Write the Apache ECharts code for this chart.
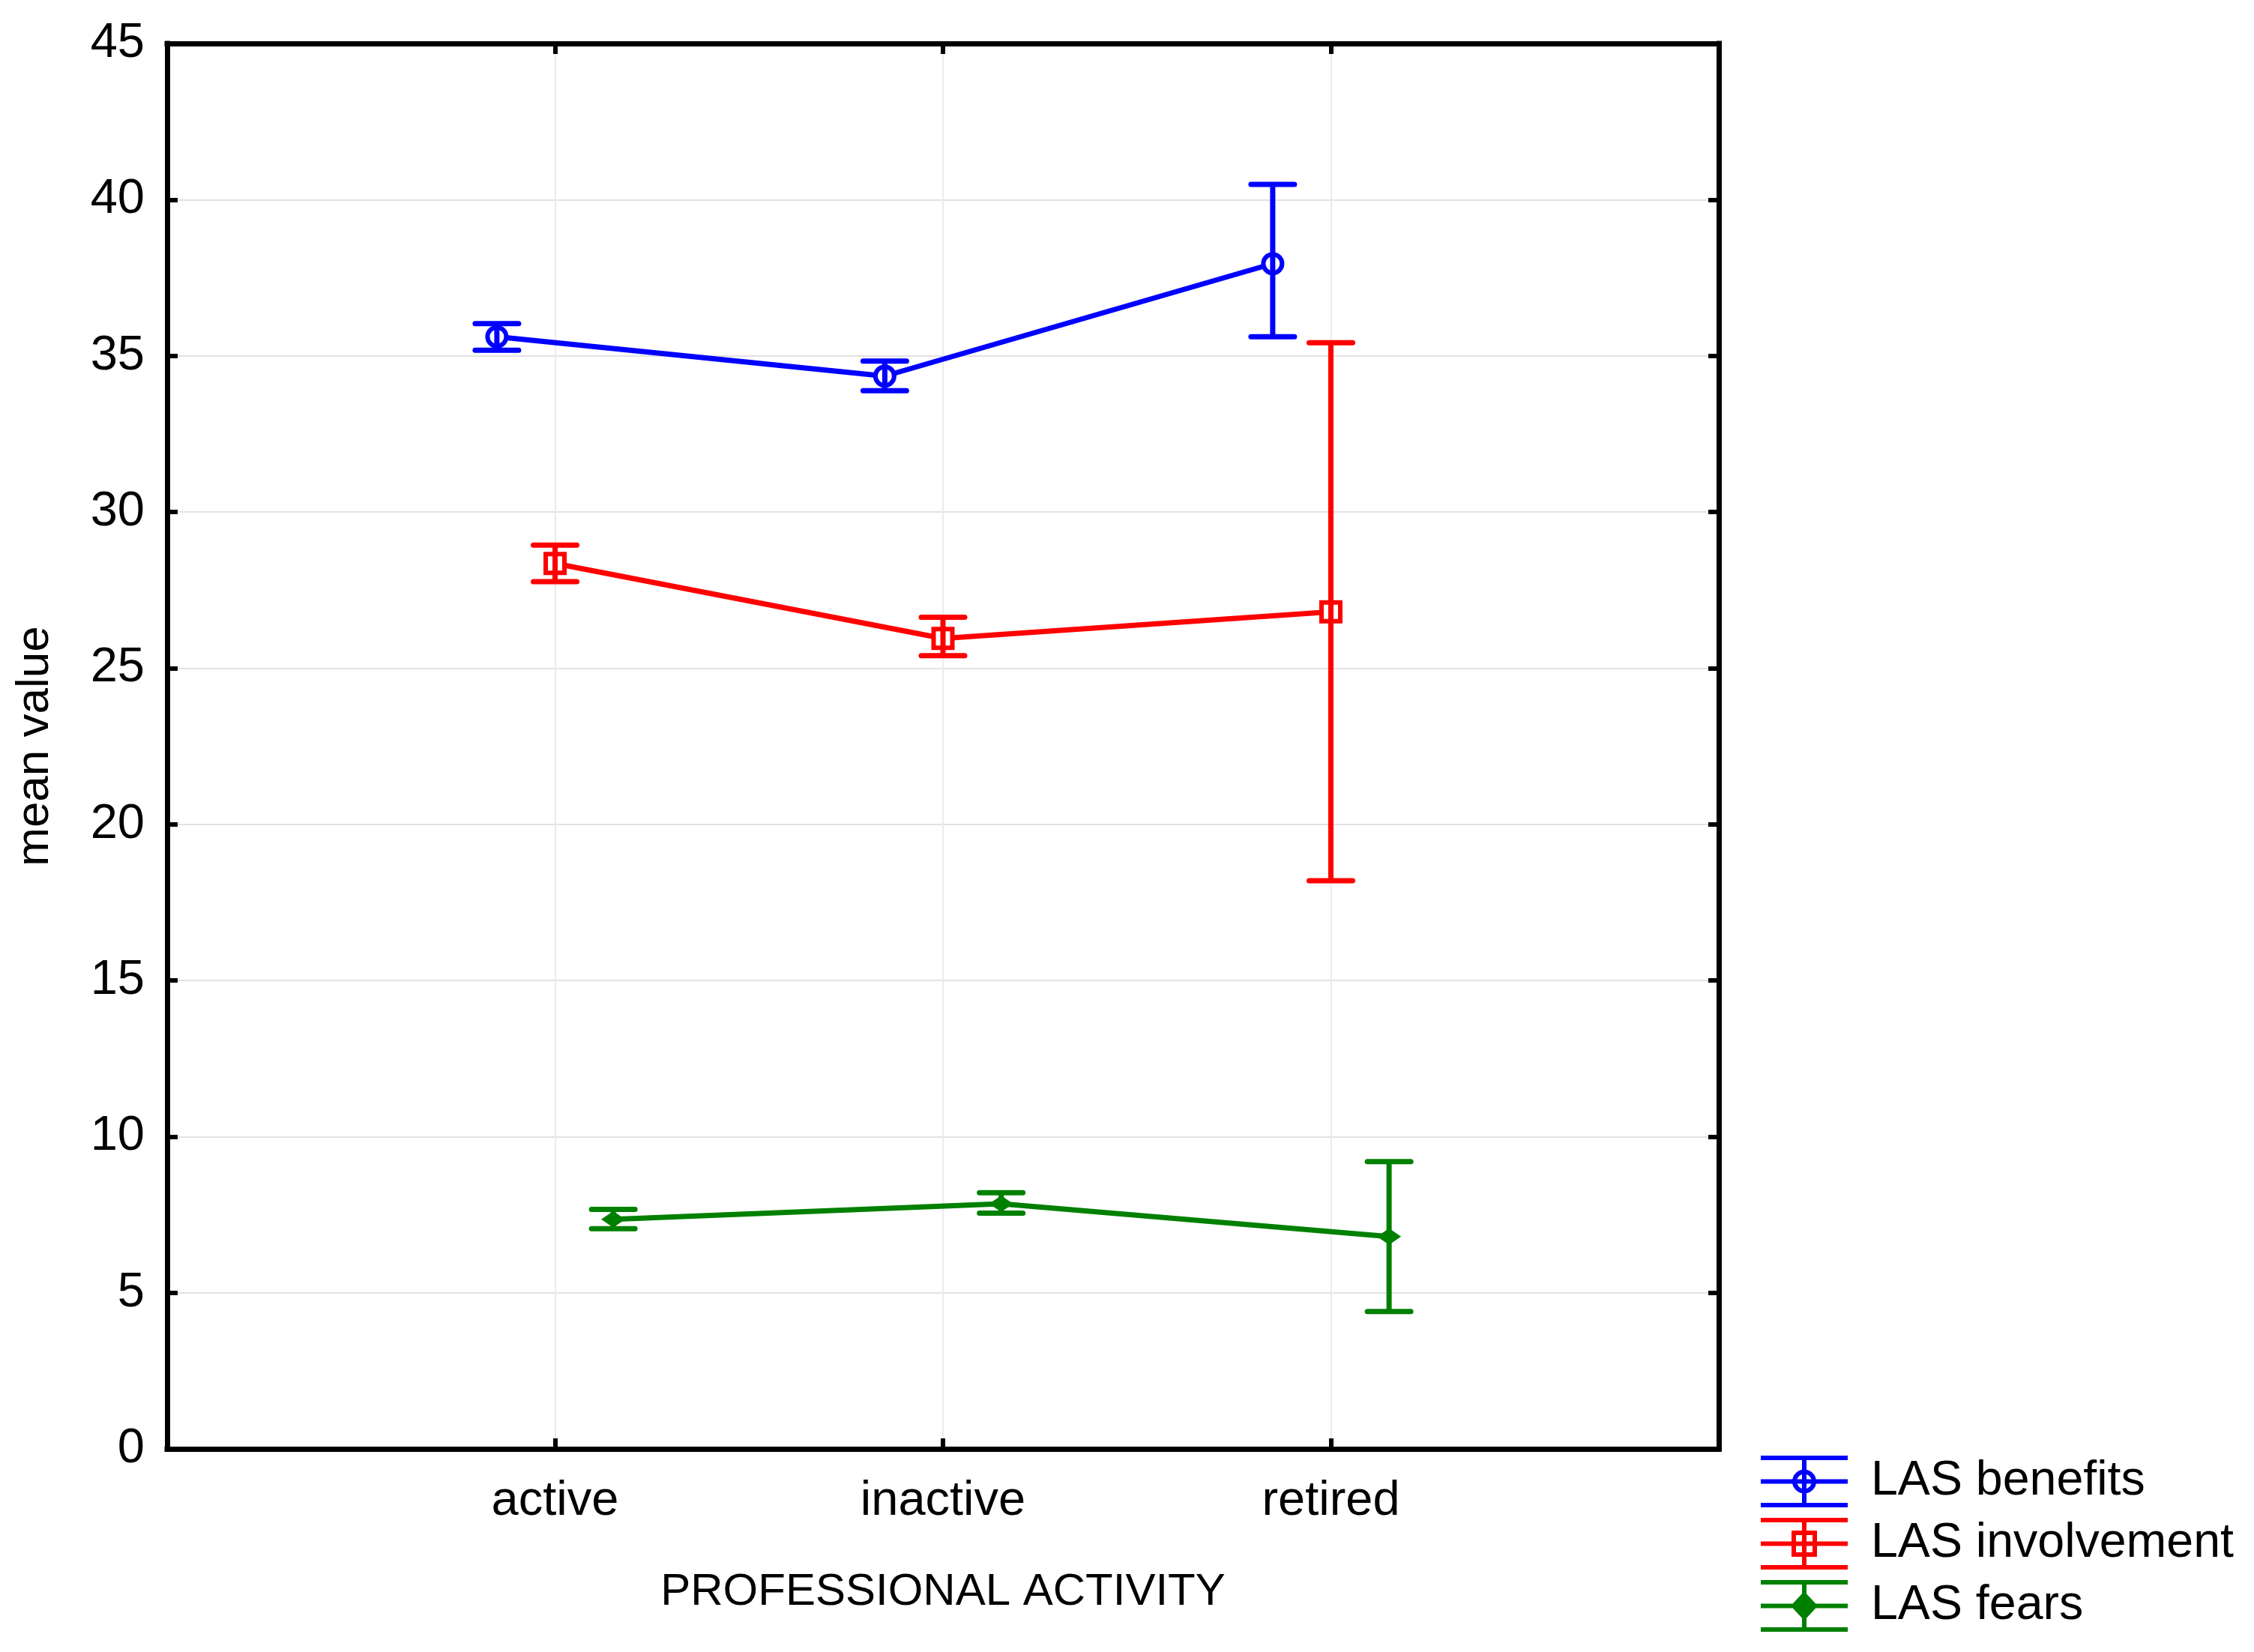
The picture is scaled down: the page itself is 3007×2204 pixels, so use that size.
<!DOCTYPE html>
<html><head><meta charset="utf-8">
<script src="https://cdn.jsdelivr.net/npm/echarts@6/dist/echarts.min.js"></script>
<style>html,body{margin:0;padding:0;background:#fff}#c{width:3007px;height:2204px}</style>
</head><body><div id="c"></div>
<script>
// ---- data ----
const categories = ['active', 'inactive', 'retired'];
const seriesNames = ['LAS benefits', 'LAS involvement', 'LAS fears'];
const benefitsMean = [35.61, 34.35, 37.95];
const benefitsLow  = [35.18, 33.88, 35.61];
const benefitsHigh = [36.03, 34.83, 40.49];
const involvementMean = [28.35, 25.95, 26.80];
const involvementLow  = [27.77, 25.40, 18.19];
const involvementHigh = [28.94, 26.63, 35.42];
const fearsMean = [7.35, 7.85, 6.80];
const fearsLow  = [7.05, 7.55, 4.40];
const fearsHigh = [7.67, 8.20, 9.20];

// ---- styling / layout ----
const FONT = 'Liberation Sans, Arial, sans-serif';
const colors = ['#0000ff', '#ff0000', '#008000'];
const dodge = [-0.15, 0, 0.15];
const LW = 7;
const groups = [
  {mean: benefitsMean, low: benefitsLow, high: benefitsHigh, symbol: 'circle', size: 25, fill: '#fff', border: 6},
  {mean: involvementMean, low: involvementLow, high: involvementHigh, symbol: 'rect', size: 25, fill: '#fff', border: 6},
  {mean: fearsMean, low: fearsLow, high: fearsHigh, symbol: 'diamond', size: [32, 22], fill: colors[2], border: 0}
];
const legendIcons = [
  'path://M0 2 L116 2 M0 33.5 L116 33.5 M0 65 L116 65 M58 2 L58 65 M45 33.5 A13 13 0 1 1 71 33.5 A13 13 0 1 1 45 33.5 Z',
  'path://M0 2 L116 2 M0 33.5 L116 33.5 M0 65 L116 65 M58 2 L58 65 M44 19 L72 19 L72 48 L44 48 Z',
  'path://M0 2 L116 2 M0 33.5 L116 33.5 M0 65 L116 65 M58 2 L58 65 M58 18.5 L72 33.5 L58 48.5 L44 33.5 Z'
];
const legendFills = ['rgba(0,0,0,0)', 'rgba(0,0,0,0)', colors[2]];

const series = [];
groups.forEach((g, k) => {
  const c = colors[k];
  series.push({
    name: seriesNames[k], type: 'line', z: 2,
    data: categories.map((_, i) => [i + 1 + dodge[k], g.mean[i]]),
    symbol: g.symbol, symbolSize: g.size,
    itemStyle: {color: g.fill, borderColor: c, borderWidth: g.border},
    lineStyle: {color: c, width: LW},
    emphasis: {disabled: true}, animation: false
  });
  series.push({
    name: seriesNames[k] + ' CI', type: 'custom', z: 3,
    data: categories.map((_, i) => [i + 1 + dodge[k], g.low[i], g.high[i]]),
    encode: {x: 0, y: [1, 2]},
    renderItem: function (params, api) {
      const x = api.value(0);
      const pLo = api.coord([x, api.value(1)]);
      const pHi = api.coord([x, api.value(2)]);
      const hw = 29;
      const st = {stroke: c, lineWidth: LW, lineCap: 'round'};
      return {type: 'group', children: [
        {type: 'line', shape: {x1: pLo[0], y1: pLo[1], x2: pHi[0], y2: pHi[1]}, style: {stroke: c, lineWidth: LW}},
        {type: 'line', shape: {x1: pHi[0] - hw, y1: pHi[1], x2: pHi[0] + hw, y2: pHi[1]}, style: st},
        {type: 'line', shape: {x1: pLo[0] - hw, y1: pLo[1], x2: pLo[0] + hw, y2: pLo[1]}, style: st}
      ]};
    },
    animation: false
  });
});

const axisLine = {show: true, onZero: false, lineStyle: {color: '#000', width: 7, cap: 'square'}};
const axisTick = {show: true, inside: true, length: 14, lineStyle: {color: '#000', width: 6}};

const chart = echarts.init(document.getElementById('c'), null, {renderer: 'canvas'});
chart.setOption({
  backgroundColor: '#fff',
  animation: false,
  grid: {left: 223, top: 58, right: 714, bottom: 271, containLabel: false},
  xAxis: [{
    type: 'value', min: 0, max: 4, interval: 1, position: 'bottom',
    axisLine: axisLine, axisTick: axisTick,
    axisLabel: {formatter: v => categories[v - 1] || '', fontSize: 65, color: '#000', fontFamily: FONT, margin: 38},
    splitLine: {show: true, showMinLine: false, showMaxLine: false, lineStyle: {color: '#ebebeb', width: 2}},
    name: 'PROFESSIONAL ACTIVITY', nameLocation: 'middle', nameGap: 161,
    nameTextStyle: {fontSize: 60, color: '#000', fontFamily: FONT}
  }, {
    type: 'value', min: 0, max: 4, interval: 1, position: 'top',
    axisLine: axisLine, axisTick: axisTick, axisLabel: {show: false}, splitLine: {show: false}
  }],
  yAxis: [{
    type: 'value', min: 0, max: 45, interval: 5, position: 'left',
    axisLine: axisLine, axisTick: axisTick,
    axisLabel: {fontSize: 65, color: '#000', fontFamily: FONT, margin: 30},
    splitLine: {show: true, showMinLine: false, showMaxLine: false, lineStyle: {color: '#e2e2e2', width: 2}},
    name: 'mean value', nameLocation: 'middle', nameRotate: 90, nameGap: 145,
    nameTextStyle: {fontSize: 62, color: '#000', fontFamily: FONT}
  }, {
    type: 'value', min: 0, max: 45, interval: 5, position: 'right',
    axisLine: axisLine, axisTick: axisTick, axisLabel: {show: false}, splitLine: {show: false}
  }],
  legend: {
    orient: 'vertical', left: 2346, top: 1942, padding: 0,
    itemWidth: 116, itemHeight: 63, itemGap: 14, selectedMode: false,
    textStyle: {fontSize: 64.5, color: '#000', fontFamily: FONT, padding: [0, 0, 0, 26]},
    data: seriesNames.map((n, k) => ({
      name: n, icon: legendIcons[k],
      itemStyle: {color: legendFills[k], borderColor: colors[k], borderWidth: 6}
    }))
  },
  series: series
});
</script>
</body></html>
